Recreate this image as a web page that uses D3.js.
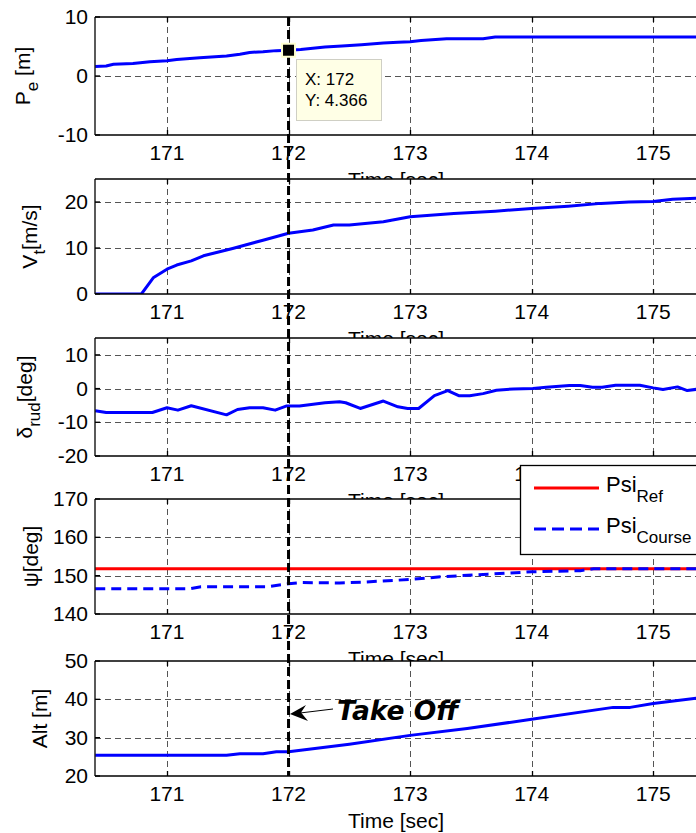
<!DOCTYPE html>
<html><head><meta charset="utf-8">
<script src="https://cdn.jsdelivr.net/npm/d3@7"></script>
<style>html,body{margin:0;padding:0;background:#fff;}svg{display:block;}</style>
</head><body>
<script>
// ---------------- data ----------------
const xTicks = [171, 172, 173, 174, 175];

const tPe = [170.41,170.5,170.56,170.72,170.86,171.0,171.08,171.27,171.49,171.6,171.68,171.79,171.9,172.0,172.1,172.2,172.3,172.44,172.6,172.78,172.9,173.0,173.09,173.3,173.6,173.7,174.0,174.5,175.0,175.4];
const vPe = [1.6,1.7,2.0,2.1,2.4,2.6,2.8,3.1,3.4,3.7,4.0,4.1,4.3,4.366,4.5,4.7,4.9,5.1,5.3,5.6,5.7,5.8,6.0,6.3,6.3,6.6,6.6,6.6,6.6,6.6];

const tVt = [170.41,170.79,170.89,171.0,171.08,171.2,171.3,171.54,171.79,172.0,172.2,172.37,172.5,172.78,173.0,173.36,173.7,174.0,174.3,174.57,174.8,175.0,175.16,175.4];
const vVt = [0,0,3.6,5.4,6.3,7.2,8.3,9.9,11.7,13.2,13.9,15.0,15.0,15.7,16.8,17.5,18.0,18.6,19.1,19.7,20.0,20.1,20.6,20.9];

const tRud = [170.41,170.5,170.88,171.0,171.09,171.2,171.49,171.58,171.68,171.79,171.89,171.98,172.09,172.3,172.42,172.47,172.59,172.78,172.9,172.98,173.07,173.2,173.31,173.4,173.49,173.6,173.71,173.85,174.01,174.12,174.31,174.4,174.5,174.58,174.69,174.89,175.0,175.08,175.2,175.28,175.4];
const vRud = [-6.6,-7.1,-7.1,-5.7,-6.4,-5.1,-7.8,-6.2,-5.7,-5.7,-6.4,-5.2,-5.2,-4.2,-3.9,-4.2,-5.9,-3.7,-5.4,-5.9,-5.9,-2.1,-0.6,-2.1,-2.1,-1.5,-0.5,-0.1,0,0.4,0.9,0.9,0.4,0.4,1.0,1.0,0.2,-0.3,0.5,-0.6,0];

const tPsiRef = [170.41,175.4];
const vPsiRef = [151.8,151.8];
const tPsiCourse = [170.41,171.19,171.28,171.82,172.0,172.1,172.42,172.6,173.0,173.25,173.64,174.0,174.4,174.51,175.4];
const vPsiCourse = [146.6,146.6,147.1,147.1,147.9,148.2,148.1,148.3,149.0,149.7,150.4,151.0,151.3,151.8,151.8];

const tAlt = [170.41,171.49,171.6,171.79,171.9,172.0,172.5,173.0,173.47,174.0,174.67,174.81,175.0,175.4];
const vAlt = [25.4,25.4,25.8,25.8,26.3,26.3,28.3,30.6,32.4,34.8,37.9,37.9,38.9,40.5];

const yTicksPe = [-10, 0, 10];
const yTicksVt = [0, 10, 20];
const yTicksRud = [-20, -10, 0, 10];
const yTicksPsi = [140, 150, 160, 170];
const yTicksAlt = [20, 30, 40, 50];

const legendLabels = [["Psi","Ref"],["Psi","Course"]];
const takeOffTime = 172;
const tipX = 172, tipY = 4.366;

// ---------------- layout ----------------
const W = 696, H = 833;
const FONT = "'Liberation Sans', Arial, Helvetica, sans-serif";
const svg = d3.select("body").append("svg").attr("width", W).attr("height", H);
const x = d3.scaleLinear().domain([170.408, 175.36]).range([95, 697]);

const panels = [
  {top:17, bottom:135, dom:[-10,10], ticks:yTicksPe, label:["P","e"," [m]"], lx:30,
   series:[{t:tPe, v:vPe, color:"#0000ff", dash:null}]},
  {top:179, bottom:294, dom:[0,25], ticks:yTicksVt, label:["V","t","[m/s]"], lx:37,
   series:[{t:tVt, v:vVt, color:"#0000ff", dash:null}]},
  {top:338, bottom:456, dom:[-20,15], ticks:yTicksRud, label:["δ","rud","[deg]"], lx:32,
   series:[{t:tRud, v:vRud, color:"#0000ff", dash:null}]},
  {top:499, bottom:614, dom:[140,170], ticks:yTicksPsi, label:["ψ","","[deg]"], lx:38,
   series:[{t:tPsiRef, v:vPsiRef, color:"#ff0000", dash:null},{t:tPsiCourse, v:vPsiCourse, color:"#0000ff", dash:"10,6"}]},
  {top:661, bottom:776, dom:[20,50], ticks:yTicksAlt, label:["Alt [m]","",""], lx:47,
   series:[{t:tAlt, v:vAlt, color:"#0000ff", dash:null}]}
];

const defs = svg.append("defs");
const yScales = [];

panels.forEach((p, i) => {
  const y = d3.scaleLinear().domain(p.dom).range([p.bottom, p.top]);
  yScales.push(y);
  const g = svg.append("g");
  const x0 = x.range()[0], x1 = x.range()[1];
  g.append("rect").attr("x", x0).attr("y", p.top).attr("width", x1 - x0).attr("height", p.bottom - p.top).attr("fill", "#fff");
  defs.append("clipPath").attr("id", "clip" + i).append("rect")
    .attr("x", x0).attr("y", p.top).attr("width", x1 - x0).attr("height", p.bottom - p.top);
  // grid
  const grid = g.append("g").attr("stroke", "#555").attr("stroke-width", 1).attr("stroke-dasharray", "6,4");
  xTicks.forEach(t => grid.append("line").attr("x1", Math.round(x(t)) + 0.5).attr("x2", Math.round(x(t)) + 0.5).attr("y1", p.top).attr("y2", p.bottom));
  p.ticks.forEach(v => {
    if (v === p.dom[0] || v === p.dom[1]) return;
    grid.append("line").attr("x1", x0).attr("x2", x1).attr("y1", Math.round(y(v)) + 0.5).attr("y2", Math.round(y(v)) + 0.5);
  });
  // series
  const line = d3.line().x(d => x(d[0])).y(d => y(d[1]));
  p.series.forEach(s => {
    g.append("path").attr("clip-path", "url(#clip" + i + ")")
      .attr("d", line(s.t.map((t, k) => [t, s.v[k]])))
      .attr("fill", "none").attr("stroke", s.color).attr("stroke-width", 3)
      .attr("stroke-dasharray", s.dash).attr("stroke-linejoin", "round");
  });
  // axes box
  const ax = g.append("g").attr("stroke", "#000").attr("stroke-width", 1.3);
  ax.append("line").attr("x1", x0).attr("x2", x1).attr("y1", p.top).attr("y2", p.top);
  ax.append("line").attr("x1", x0).attr("x2", x1).attr("y1", p.bottom).attr("y2", p.bottom);
  ax.append("line").attr("x1", x0).attr("x2", x0).attr("y1", p.top).attr("y2", p.bottom);
  xTicks.forEach(t => {
    const xx = Math.round(x(t)) + 0.5;
    ax.append("line").attr("x1", xx).attr("x2", xx).attr("y1", p.bottom).attr("y2", p.bottom - 5);
    ax.append("line").attr("x1", xx).attr("x2", xx).attr("y1", p.top).attr("y2", p.top + 5);
  });
  p.ticks.forEach(v => {
    ax.append("line").attr("x1", x0).attr("x2", x0 + 5).attr("y1", y(v)).attr("y2", y(v));
  });
  // tick labels
  const tl = g.append("g").attr("font-family", FONT).attr("font-size", 21).attr("fill", "#000");
  xTicks.forEach(t => tl.append("text").attr("x", x(t)).attr("y", p.bottom + 24.5).attr("text-anchor", "middle").text(t));
  p.ticks.forEach(v => tl.append("text").attr("x", 88).attr("y", y(v) + 7).attr("text-anchor", "end").text(v));
  // xlabel
  g.append("text").attr("x", (x0 + x1) / 2).attr("y", p.bottom + 51.5).attr("text-anchor", "middle")
    .attr("font-family", FONT).attr("font-size", 21).text("Time [sec]");
  // ylabel
  const cy = (p.top + p.bottom) / 2;
  const yl = g.append("text").attr("transform", `translate(${p.lx},${cy}) rotate(-90)`)
    .attr("text-anchor", "middle").attr("font-family", FONT).attr("font-size", 21);
  yl.append("tspan").text(p.label[0]);
  if (p.label[1]) {
    yl.append("tspan").attr("font-size", 17).attr("dy", 8).text(p.label[1]);
    yl.append("tspan").attr("dy", -8).text(p.label[2]);
  } else if (p.label[2]) {
    yl.append("tspan").text(p.label[2]);
  }
});

// ---------------- legend ----------------
const lg = svg.append("g");
lg.append("rect").attr("x", 520.5).attr("y", 465.5).attr("width", 240).attr("height", 89)
  .attr("fill", "#fff").attr("stroke", "#000").attr("stroke-width", 1.3);
const legRows = [{y:488, color:"#ff0000", dash:null}, {y:529, color:"#0000ff", dash:"12,6"}];
legRows.forEach((r, i) => {
  lg.append("line").attr("x1", 534).attr("x2", 599).attr("y1", r.y).attr("y2", r.y)
    .attr("stroke", r.color).attr("stroke-width", 3).attr("stroke-dasharray", r.dash);
  const tx = lg.append("text").attr("x", 606).attr("y", r.y + 4).attr("font-family", FONT).attr("font-size", 22);
  tx.append("tspan").text(legendLabels[i][0]);
  tx.append("tspan").attr("font-size", 17).attr("dy", 10).text(legendLabels[i][1]);
});

// ---------------- take-off line ----------------
svg.append("line").attr("x1", x(takeOffTime)).attr("x2", x(takeOffTime))
  .attr("y1", panels[0].top).attr("y2", panels[4].bottom)
  .attr("stroke", "#000").attr("stroke-width", 3).attr("stroke-dasharray", "9,4");

// ---------------- data tip ----------------
const y0 = yScales[0];
svg.append("rect").attr("x", 296.5).attr("y", 59.5).attr("width", 85).attr("height", 61)
  .attr("fill", "#ffffe6").attr("stroke", "#cfcfc4").attr("stroke-width", 1);
svg.append("rect").attr("x", x(tipX) - 6.5).attr("y", y0(tipY) - 6.5).attr("width", 13).attr("height", 13)
  .attr("fill", "#000").attr("stroke", "#ffffd0").attr("stroke-width", 2);
const tip = svg.append("g").attr("font-family", FONT).attr("font-size", 17).attr("fill", "#000");
tip.append("text").attr("x", 305).attr("y", 85).text("X: " + tipX);
tip.append("text").attr("x", 305).attr("y", 106).text("Y: " + tipY);

// ---------------- Take Off annotation ----------------
const ann = svg.append("g");
ann.append("line").attr("x1", 333).attr("y1", 709).attr("x2", 300).attr("y2", 713)
  .attr("stroke", "#000").attr("stroke-width", 1);
ann.append("path").attr("d", "M290,714 L306,705 L301,712.5 L308,721 Z").attr("fill", "#000");
ann.append("text").attr("x", 337).attr("y", 720).attr("font-family", "'DejaVu Sans', Verdana, sans-serif")
  .attr("font-weight", "bold").attr("font-style", "italic").attr("font-size", 26.5).text("Take Off");
</script>
</body></html>
